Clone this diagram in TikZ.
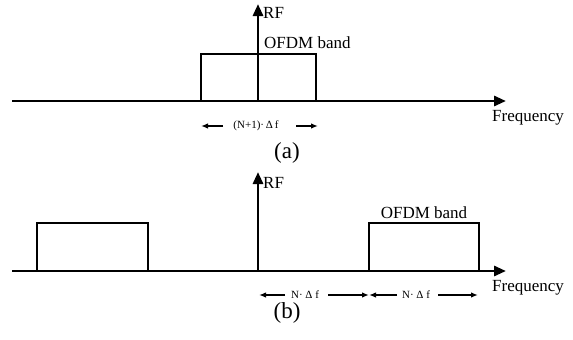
\documentclass[tikz,border=0pt]{standalone}
\usepackage{fontspec}
\setmainfont{Liberation Serif}
\usetikzlibrary{arrows.meta}
\begin{document}
\begin{tikzpicture}[x=1pt,y=-1pt,
  axis/.style={line width=2.8pt,-{Triangle[length=12pt,width=10pt]}},
  band/.style={line width=1.6pt},
  dim/.style={line width=1.4pt,-{Latex[length=7pt,width=5.5pt]}},
  lbl/.style={inner sep=0pt,font=\fontsize{17}{19}\selectfont},
  small/.style={inner sep=0pt,font=\fontsize{11}{12}\selectfont},
  captxt/.style={inner sep=0pt,font=\fontsize{23}{26}\selectfont}]
\useasboundingbox (0,0) rectangle (573,340);
% ---- (a) ----
\coordinate (a0) at (12,101);
\coordinate (a1) at (506,101);
\coordinate (ao) at (258,101);
\coordinate (at) at (258,4);
\draw[band] (201,101) |- (316,54) -- (316,101);
\draw[axis] (a0) -- (a1);
\draw[axis] (ao) -- (at);
\node[lbl,anchor=west] (rfa) at (263,13) {RF};
\node[lbl,anchor=west] (ofa) at (264,43) {OFDM band};
\node[lbl,anchor=west] (fra) at (492,118) {Frequency};
\node[small] (da) at (256,126) {(N+1)·\,Δ\,f};
\coordinate (dal) at (201,126);
\coordinate (dalt) at (223,126);
\coordinate (dar) at (318,126);
\coordinate (dart) at (296,126);
\draw[dim] (dalt) -- (dal);
\draw[dim] (dart) -- (dar);
\node[captxt] (capa) at (287,153) {(a)};
% ---- (b) ----
\coordinate (b0) at (12,271);
\coordinate (b1) at (506,271);
\coordinate (bo) at (258,271);
\coordinate (bt) at (258,172);
\draw[band] (37,271) |- (148,223) -- (148,271);
\draw[band] (369,271) |- (479,223) -- (479,271);
\draw[axis] (b0) -- (b1);
\draw[axis] (bo) -- (bt);
\node[lbl,anchor=west] (rfb) at (263,183) {RF};
\node[lbl] (ofb) at (424,213) {OFDM band};
\node[lbl,anchor=west] (frb) at (492,288) {Frequency};
\coordinate (d1l) at (259,295);
\coordinate (d1lt) at (285,295);
\coordinate (d1r) at (369,295);
\coordinate (d1rt) at (328,295);
\coordinate (d2l) at (369,295);
\coordinate (d2lt) at (397,295);
\coordinate (d2r) at (478,295);
\coordinate (d2rt) at (438,295);
\node[small] (db1) at (305,295) {N· Δ f};
\node[small] (db2) at (416,295) {N· Δ f};
\draw[dim] (d1lt) -- (d1l);
\draw[dim] (d1rt) -- (d1r);
\draw[dim] (d2lt) -- (d2l);
\draw[dim] (d2rt) -- (d2r);
\node[captxt] (capb) at (287,313) {(b)};
\end{tikzpicture}
\end{document}
